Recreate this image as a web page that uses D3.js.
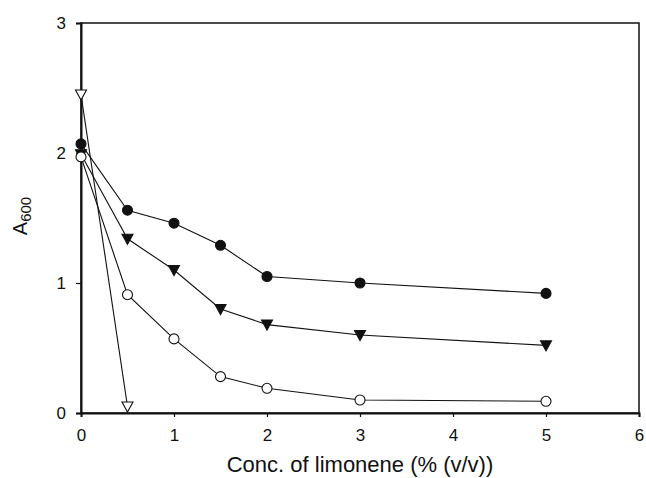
<!DOCTYPE html>
<html>
<head>
<meta charset="utf-8">
<script src="https://cdn.jsdelivr.net/npm/d3@7"></script>
<style>
  body { margin: 0; background: #fff; }
  text { font-family: "Liberation Sans", Arial, sans-serif; fill: #111; }
</style>
</head>
<body>
<div id="chart"></div>
<script>
// data
var conc = [0, 0.5, 1, 1.5, 2, 3, 5];
var filledCircle = [2.07, 1.56, 1.46, 1.29, 1.05, 1.0, 0.92];
var filledTriangle = [1.99, 1.34, 1.1, 0.8, 0.68, 0.6, 0.52];
var openCircle = [1.97, 0.91, 0.57, 0.28, 0.19, 0.1, 0.09];
var openTriangleX = [0, 0.5];
var openTriangle = [2.45, 0.05];
var xTicks = [0, 1, 2, 3, 4, 5, 6];
var yTicks = [0, 1, 2, 3];

var margin = { top: 23, right: 7, bottom: 65, left: 81 },
    width = 646 - margin.left - margin.right,
    height = 478 - margin.top - margin.bottom;

var svg = d3.select("#chart")
    .append("svg")
    .attr("width", 646)
    .attr("height", 478)
    .append("g")
    .attr("transform", "translate(" + margin.left + "," + margin.top + ")");

var x = d3.scaleLinear().domain([0, 6]).range([0, width]);
var y = d3.scaleLinear().domain([0, 3]).range([height, 0]);

// frame
svg.append("rect")
    .attr("width", width)
    .attr("height", height)
    .attr("fill", "none")
    .attr("stroke", "#111")
    .attr("stroke-width", 1.5);

// axes
var xAxis = svg.append("g")
    .attr("transform", "translate(0," + height + ")")
    .call(d3.axisBottom(x).tickValues(xTicks).tickSize(4).tickPadding(12).tickFormat(d3.format("d")));
var yAxis = svg.append("g")
    .call(d3.axisLeft(y).tickValues(yTicks).tickSize(5).tickPadding(10).tickFormat(d3.format("d")));

[xAxis, yAxis].forEach(function (a) {
    a.select(".domain").attr("stroke", "#111").attr("stroke-width", 2);
    a.selectAll(".tick line").attr("stroke", "#111").attr("stroke-width", 1.2);
    a.selectAll(".tick text").style("font-size", "17px").attr("fill", "#111");
});

// axis titles
svg.append("text")
    .attr("x", width / 2)
    .attr("y", height + 59)
    .attr("text-anchor", "middle")
    .style("font-size", "22px")
    .text("Conc. of limonene (% (v/v))");

var yl = svg.append("text")
    .attr("transform", "translate(" + (-54) + "," + (height / 2 - 2) + ") rotate(-90)")
    .attr("text-anchor", "middle")
    .style("font-size", "20px");
yl.append("tspan").text("A");
yl.append("tspan").attr("dy", "0.25em").style("font-size", "15px").text("600");

// series
var series = [
    { xs: conc, ys: filledTriangle, shape: "tri", fill: "#111" },
    { xs: conc, ys: openCircle, shape: "circle", fill: "#fff" },
    { xs: conc, ys: filledCircle, shape: "circle", fill: "#111" },
    { xs: openTriangleX, ys: openTriangle, shape: "tri", fill: "#fff" }
];

var line = d3.line()
    .x(function (d) { return x(d[0]); })
    .y(function (d) { return y(d[1]); });

series.forEach(function (s) {
    var pts = s.xs.map(function (v, i) { return [v, s.ys[i]]; });
    svg.append("path")
        .datum(pts)
        .attr("d", line)
        .attr("fill", "none")
        .attr("stroke", "#111")
        .attr("stroke-width", 1.1);
});

var triDown = "M-5.5,-4.5L5.5,-4.5L0,5.5Z";

series.forEach(function (s) {
    var pts = s.xs.map(function (v, i) { return [v, s.ys[i]]; });
    var g = svg.append("g");
    if (s.shape === "circle") {
        g.selectAll("circle")
            .data(pts)
            .enter()
            .append("circle")
            .attr("cx", function (d) { return x(d[0]); })
            .attr("cy", function (d) { return y(d[1]); })
            .attr("r", 5)
            .attr("fill", s.fill)
            .attr("stroke", "#111")
            .attr("stroke-width", 1.1);
    } else {
        g.selectAll("path")
            .data(pts)
            .enter()
            .append("path")
            .attr("d", triDown)
            .attr("transform", function (d) { return "translate(" + x(d[0]) + "," + y(d[1]) + ")"; })
            .attr("fill", s.fill)
            .attr("stroke", "#111")
            .attr("stroke-width", 1.1);
    }
});
</script>
</body>
</html>
